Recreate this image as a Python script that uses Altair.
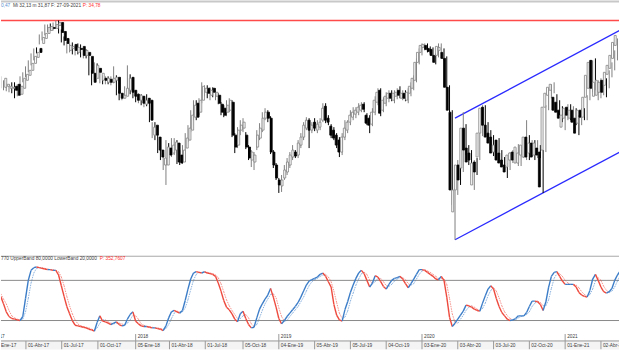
import altair as alt
import pandas as pd

# ---------------- data (weekly bars starting 2017-01-27) ----------------
open_ = [28.3,28.4,28.2,28.2,28.4,28.6,27.6,28.2,29.0,29.5,30.0,30.7,31.3,32.2,32.7,33.2,33.7,34.0,34.3,34.2,
         34.5,34.8,33.9,33.2,32.0,32.2,32.6,31.8,32.2,32.4,31.5,31.8,31.4,29.7,29.2,30.2,29.0,29.2,28.8,29.1,
         28.8,29.0,29.3,27.7,27.2,27.4,28.0,29.3,28.0,27.6,27.0,27.4,26.6,27.2,27.0,23.5,24.5,23.3,22.0,20.5,
         20.5,22.2,21.7,22.0,22.7,21.5,20.8,22.2,23.0,24.0,25.3,26.7,25.8,27.0,27.8,28.2,27.5,28.2,27.4,27.5,
         26.6,26.2,25.8,26.0,26.8,23.5,22.5,24.0,24.2,23.5,22.3,21.0,20.8,22.3,23.2,24.0,25.2,25.8,25.2,21.8,
         20.5,19.0,18.4,19.2,19.8,20.5,21.3,21.8,21.5,22.5,23.3,24.2,25.0,24.0,24.8,24.0,24.3,25.0,26.4,25.2,
         24.4,24.0,23.5,23.0,21.8,23.3,24.0,24.8,25.3,25.6,25.8,26.0,26.6,25.5,25.2,24.6,25.8,26.8,28.0,26.0,
         26.7,27.2,27.7,27.0,27.4,28.0,27.2,27.7,27.0,27.7,28.2,29.0,30.8,31.8,32.3,32.5,32.2,32.1,31.5,31.5,
         32.0,31.8,31.2,28.3,25.8,15.8,18.0,20.5,20.2,24.2,22.2,21.7,18.5,20.8,21.3,23.7,26.3,24.5,23.7,23.3,
         21.8,23.0,21.7,21.0,20.5,20.3,21.0,21.8,20.7,20.7,21.5,21.3,23.3,21.7,22.7,21.5,22.2,21.8,22.0,26.3,
         27.5,28.0,27.3,26.8,26.0,24.3,25.2,26.3,25.2,26.0,25.2,24.7,26.0,25.3,27.3,28.2,31.0,27.4,27.5,27.8,
         29.0,28.5,29.6,30.2,31.2,32.5]
high = [29.4,29.0,28.7,28.6,28.8,28.8,28.6,29.4,29.8,30.4,31.0,31.7,32.2,32.3,33.6,33.9,34.6,34.6,34.7,34.8,
        35.0,35.0,34.1,33.4,32.8,32.7,32.8,32.6,32.7,32.6,32.2,32.1,31.5,30.0,30.8,30.7,30.0,29.5,29.4,29.4,
        29.4,30.4,29.5,27.9,27.7,28.4,30.5,29.6,28.2,27.8,27.7,27.6,27.4,27.6,27.2,24.8,24.8,23.5,22.4,21.7,
        23.0,22.7,23.2,23.2,23.0,22.0,22.5,23.7,24.5,26.0,27.0,27.0,27.2,28.8,28.5,28.5,28.3,28.3,28.2,27.7,
        26.8,26.5,27.0,27.2,27.0,23.7,24.3,25.0,25.2,23.8,22.5,22.0,21.8,24.0,24.7,25.8,26.2,26.0,25.4,22.0,
        20.7,19.2,19.5,20.5,21.2,21.8,22.5,22.0,23.0,23.7,24.8,25.3,25.2,24.8,25.2,25.0,25.2,26.7,26.7,25.5,
        24.6,24.3,23.7,23.3,23.7,25.0,25.0,26.0,26.3,26.3,26.7,26.8,26.8,25.7,25.5,26.2,27.4,28.2,28.2,27.3,
        27.8,28.0,28.0,28.0,28.2,28.4,28.0,28.0,28.2,28.8,29.5,31.2,32.2,32.7,32.7,32.7,32.4,32.3,31.7,32.7,
        32.7,32.2,31.4,28.5,26.0,18.2,21.0,21.0,25.8,24.6,22.5,22.0,21.0,21.2,24.0,26.5,26.5,24.8,24.0,23.5,
        22.8,23.2,22.0,21.3,20.7,21.8,22.0,22.2,22.6,22.0,23.0,25.0,23.5,23.0,23.0,23.0,22.5,22.0,26.5,28.0,
        28.6,28.8,27.6,27.0,26.4,25.8,26.6,26.6,26.4,26.2,25.5,26.2,26.2,27.5,31.0,31.0,31.2,29.0,29.2,29.0,
        29.2,30.0,30.8,32.0,33.2,33.8]
low = [28.2,28.0,27.9,27.8,27.7,27.2,27.4,28.0,28.8,29.3,29.8,30.5,31.0,31.7,32.6,33.0,33.5,33.8,34.0,34.0,
       34.3,33.7,32.8,32.5,31.7,31.8,31.6,31.5,31.6,31.3,31.2,31.2,29.5,28.5,29.0,29.3,28.7,28.6,28.6,28.6,
       28.5,28.7,27.5,27.0,27.0,27.2,27.8,27.6,27.2,26.8,26.7,26.5,26.3,26.4,24.8,23.2,23.0,21.7,21.0,20.0,
       18.5,21.2,21.3,21.5,20.6,20.5,20.6,22.0,22.8,23.8,25.0,25.0,25.5,26.7,27.4,27.2,27.0,27.3,27.0,26.6,
       25.5,25.3,25.4,25.8,23.3,21.7,22.2,23.5,23.8,22.1,21.0,20.3,20.0,22.0,23.0,23.8,25.0,24.8,21.6,20.2,
       19.0,17.7,17.8,19.0,19.5,20.2,21.0,21.2,21.2,22.2,23.0,24.0,22.2,23.7,23.9,23.7,24.0,24.8,24.7,24.5,
       23.2,23.0,22.2,21.3,21.5,23.0,23.7,24.5,25.0,25.2,25.5,25.8,25.8,24.5,23.7,24.4,25.5,26.5,25.4,25.8,
       26.4,26.8,26.9,26.7,27.1,27.2,27.0,26.9,26.7,27.4,28.0,28.8,30.6,31.5,32.0,31.8,31.7,31.4,30.6,31.3,
       31.7,31.0,28.2,25.8,16.5,13.0,17.5,18.5,19.8,21.5,20.5,20.6,18.0,19.5,21.0,23.4,24.2,23.0,22.4,21.4,
       21.4,20.8,20.4,20.0,19.2,20.0,20.7,20.7,20.4,20.4,21.2,21.0,21.0,21.4,21.0,21.2,21.2,17.7,21.8,26.0,
       27.2,27.7,25.8,25.5,24.8,24.0,25.0,25.0,24.8,24.5,23.5,24.5,25.0,25.0,27.0,27.8,28.0,27.0,27.2,27.5,
       27.3,28.2,29.3,30.0,31.0,32.3]
close = [29.2,28.6,28.4,28.3,28.0,27.5,28.4,29.2,29.6,30.0,30.7,31.4,31.8,31.8,33.3,33.7,34.3,34.4,34.2,34.6,
         34.8,33.8,33.0,32.7,32.5,32.4,32.0,32.3,32.1,31.5,32.0,31.5,29.7,28.8,30.5,29.8,29.7,29.0,29.2,28.8,
         29.2,29.3,27.7,27.2,27.5,28.2,29.2,27.8,27.4,27.0,27.5,26.7,27.0,26.7,25.0,24.3,23.5,22.0,21.3,21.2,
         22.3,21.5,22.5,22.8,20.8,20.7,22.0,23.2,24.2,25.5,26.5,25.3,27.0,28.4,28.2,27.7,28.0,27.8,27.8,26.7,
         25.8,25.5,26.5,27.0,23.5,22.3,24.0,24.5,24.8,22.3,21.2,21.8,21.5,23.5,24.2,25.2,25.8,25.2,21.8,20.5,
         19.2,18.5,19.0,20.0,20.8,21.5,22.0,21.4,22.7,23.3,24.5,25.0,24.0,24.5,24.2,24.6,24.8,26.2,25.0,24.8,
         23.5,23.2,22.5,21.8,23.3,24.2,24.8,25.5,25.8,26.0,26.3,26.5,26.1,24.7,24.5,25.8,27.0,27.8,25.7,27.0,
         27.4,27.7,27.2,27.7,27.8,27.5,27.7,27.2,27.8,28.4,29.2,30.8,31.8,32.5,32.6,32.1,31.9,31.5,30.8,32.4,
         32.3,31.2,28.3,26.0,18.0,18.0,20.5,19.0,24.2,22.0,20.8,21.0,20.7,19.8,23.7,26.2,24.5,23.3,22.7,21.7,
         22.5,21.0,20.7,20.3,19.8,21.5,21.7,21.0,22.3,21.7,22.5,23.3,21.3,22.7,21.3,22.7,21.5,18.3,26.3,27.7,
         28.3,28.6,26.0,25.8,25.2,25.5,26.2,25.5,26.0,24.8,23.7,26.0,25.3,27.3,29.5,30.8,28.2,28.8,29.0,28.8,
         27.8,29.8,30.5,31.5,32.8,33.5]

# stochastic %K and signal, one value per weekly bar
stoch_k = [56,45,33,26,23,22,21,20,26,53,80,95,99,100,99,98,97,96,96,95,
           95,88,72,56,41,30,20,13,12,11,10,9,7,6,4,17,27,19,18,16,
           14,16,18,14,12,13,22,29,33,19,15,12,11,11,10,9,9,8,7,5,
           12,24,33,35,33,31,35,50,67,82,91,93,92,91,93,91,90,89,86,76,
           64,50,40,36,30,22,18,30,34,23,14,9,10,24,37,45,52,58,68,55,
           40,23,15,20,26,31,36,41,47,55,64,73,79,81,83,85,89,91,86,78,
           70,44,28,21,19,36,48,62,73,83,91,95,90,80,70,76,87,85,78,71,
           67,74,80,83,84,86,82,75,69,75,82,89,96,96,95,92,89,86,82,81,
           86,80,55,25,11,16,22,28,34,43,42,40,37,35,34,46,57,67,72,67,
           53,41,32,27,22,20,21,23,27,27,27,32,41,49,49,48,44,35,48,70,
           86,92,93,86,79,74,74,74,74,70,62,58,56,55,65,82,89,80,70,63,
           61,63,68,80,88,94]
stoch_d = [60,52,45,35,27,24,22,21,22,33,53,76,91,98,99,99,98,97,96,96,
           95,93,85,72,56,42,30,21,15,12,11,10,9,7,6,9,16,21,21,18,
           16,15,16,16,15,13,16,21,28,27,22,15,13,11,11,10,9,9,8,7,
           8,14,23,31,34,33,33,39,51,66,80,89,92,92,92,92,91,90,88,84,
           75,63,51,42,35,29,23,23,27,29,24,15,11,14,24,35,45,52,59,60,
           54,39,26,19,20,26,31,36,41,48,55,64,72,78,81,83,86,88,89,85,
           78,64,47,31,23,25,34,49,61,73,82,90,92,89,80,75,78,83,83,78,
           72,71,74,79,82,84,84,81,75,73,75,82,89,94,96,94,92,89,86,83,
           83,82,74,53,30,17,16,22,28,35,40,42,40,37,35,38,46,57,65,69,
           64,54,42,33,27,23,21,21,24,26,27,29,33,41,46,49,47,42,42,51,
           68,83,90,90,86,80,76,74,74,73,69,63,59,56,59,67,79,84,80,71,
           65,62,64,70,79,87]

resistance_price = [35.0]
channel_dates = ["2020-03-27", "2021-07-09"]
channel_upper = [25.2, 35.06]
channel_lower = [13.0, 22.86]
bands = [80, 20]

tick_dates = ["2017-01-05", "2017-04-01", "2017-07-01", "2017-10-01", "2018-01-05", "2018-04-01",
              "2018-07-01", "2018-10-05", "2019-01-04", "2019-04-05", "2019-07-05", "2019-10-04",
              "2020-01-03", "2020-04-03", "2020-07-03", "2020-10-02", "2021-01-01", "2021-04-02"]
tick_labels = ["05-Ene-17", "01-Abr-17", "01-Jul-17", "01-Oct-17", "05-Ene-18", "01-Abr-18",
               "01-Jul-18", "05-Oct-18", "04-Ene-19", "05-Abr-19", "05-Jul-19", "04-Oct-19",
               "03-Ene-20", "03-Abr-20", "03-Jul-20", "02-Oct-20", "01-Ene-21", "02-Abr-21"]
year_dates = ["2017-01-05", "2018-01-05", "2019-01-04", "2020-01-03", "2021-01-01"]
year_labels = ["2017", "2018", "2019", "2020", "2021"]

# ---------------- frames ----------------
n = len(close)
dates = [(pd.Timestamp("2017-01-27") + pd.Timedelta(weeks=i)).strftime("%Y-%m-%d") for i in range(n)]
candles = pd.DataFrame({"date": dates, "open": open_, "high": high, "low": low, "close": close})
candles["dir"] = ["up" if c >= o else "down" for o, c in zip(open_, close)]

def segments(vals):
    rows = []
    for i in range(len(vals) - 1):
        rows.append({"d1": dates[i], "d2": dates[i + 1], "v1": vals[i], "v2": vals[i + 1],
                     "trend": "rise" if vals[i + 1] >= vals[i] else "fall"})
    return pd.DataFrame(rows)

seg_k = segments(stoch_k)
seg_d = segments(stoch_d)

W = 620
FONT = "Liberation Sans"
xscale = alt.Scale(type="utc", domain=[alt.DateTime(year=2017, month=1, date=27, hours=15, utc=True),
                                       alt.DateTime(year=2021, month=5, date=17, hours=22, utc=True)])
X = lambda f: alt.X(f, type="temporal", scale=xscale, axis=None)

# ---------------- price panel ----------------
pscale = alt.Scale(domain=[11.4, 37.0], nice=False, zero=False)
dir_stroke = alt.Scale(domain=["up", "down"], range=["#808080", "#000000"])
dir_fill = alt.Scale(domain=["up", "down"], range=["#ffffff", "#000000"])

wicks = alt.Chart(candles).mark_rule(clip=True, strokeWidth=1).encode(
    x=X("date"), y=alt.Y("low:Q", scale=pscale, axis=None), y2="high:Q",
    stroke=alt.Stroke("dir:N", scale=dir_stroke, legend=None))
bodies = alt.Chart(candles).mark_bar(clip=True, size=2, strokeWidth=0.8).encode(
    x=X("date"), y=alt.Y("open:Q", scale=pscale, axis=None), y2="close:Q",
    fill=alt.Fill("dir:N", scale=dir_fill, legend=None),
    stroke=alt.Stroke("dir:N", scale=dir_stroke, legend=None))
res = alt.Chart(pd.DataFrame({"p": resistance_price})).mark_rule(color="#ff4a4a", strokeWidth=1.3).encode(
    y=alt.Y("p:Q", scale=pscale, axis=None))
chan = pd.DataFrame({"date": channel_dates * 2, "p": channel_upper + channel_lower,
                     "line": ["upper", "upper", "lower", "lower"]})
channel = alt.Chart(chan).mark_line(clip=True, color="#2a2aff", strokeWidth=1.3).encode(
    x=X("date"), y=alt.Y("p:Q", scale=pscale, axis=None), detail="line:N")

topbar = alt.Chart(pd.DataFrame({"a": [0]})).mark_rect(color="#c8c8c8").encode(
    x=alt.value(0), x2=alt.value(W), y=alt.value(0), y2=alt.value(2))
hdr = pd.DataFrame({"t": ["0,47", "Mi 32,13 m 31,87 F: 27-09-2021", "P: 34,78"],
                    "x": [0, 12, 82], "c": ["#5b8fd0", "#404040", "#ff3030"]})
hdr_text = alt.Chart(hdr).mark_text(align="left", baseline="middle", font=FONT, fontSize=4.8).encode(
    x=alt.X("x:Q", scale=alt.Scale(domain=[0, W], range=[0, W]), axis=None), y=alt.value(5),
    text="t:N", color=alt.Color("c:N", scale=None))

price = alt.layer(topbar, res, channel, wicks, bodies, hdr_text).resolve_scale(x="independent").properties(
    width=W, height=256)

# ---------------- stochastic panel ----------------
sscale = alt.Scale(domain=[-23.2, 116.8], nice=False, zero=False)
trend_col = alt.Scale(domain=["rise", "fall"], range=["#3c7dc8", "#ee4a3e"])

band_rules = alt.Chart(pd.DataFrame({"v": bands})).mark_rule(color="#8a8a8a", strokeWidth=1).encode(
    y=alt.Y("v:Q", scale=sscale, axis=None))
sep = alt.Chart(pd.DataFrame({"a": [0]})).mark_rule(color="#a8a8a8", strokeWidth=1).encode(
    x=alt.value(0), x2=alt.value(W), y=alt.value(0.5))
line_d = alt.Chart(seg_d).mark_rule(clip=True, strokeWidth=0.8, opacity=0.75, strokeDash=[1.5, 1]).encode(
    x=X("d1"), x2="d2", y=alt.Y("v1:Q", scale=sscale, axis=None), y2="v2:Q",
    color=alt.Color("trend:N", scale=trend_col, legend=None))
line_k = alt.Chart(seg_k).mark_rule(clip=True, strokeWidth=1.4).encode(
    x=X("d1"), x2="d2", y=alt.Y("v1:Q", scale=sscale, axis=None), y2="v2:Q",
    color=alt.Color("trend:N", scale=trend_col, legend=None))

shdr = pd.DataFrame({"t": ["770 UpperBand 80,0000 LowerBand 20,0000", "P: 352,7607"],
                     "x": [0, 99], "c": ["#404040", "#ff3030"]})
shdr_text = alt.Chart(shdr).mark_text(align="left", baseline="middle", font=FONT, fontSize=4.8).encode(
    x=alt.X("x:Q", scale=alt.Scale(domain=[0, W], range=[0, W]), axis=None), y=alt.value(3.5),
    text="t:N", color=alt.Color("c:N", scale=None))

axis_bg = alt.Chart(pd.DataFrame({"a": [0]})).mark_rect(color="#f4f4f4").encode(
    x=alt.value(0), x2=alt.value(W), y=alt.value(85), y2=alt.value(94))
axis_line = alt.Chart(pd.DataFrame({"a": [0]})).mark_rule(color="#9a9a9a", strokeWidth=1).encode(
    x=alt.value(0), x2=alt.value(W), y=alt.value(85.5))
ticks = pd.DataFrame({"d": tick_dates, "t": tick_labels})
tick_rules = alt.Chart(ticks).mark_rule(clip=True, color="#9a9a9a", strokeWidth=1).encode(
    x=X("d"), y=alt.value(85.5), y2=alt.value(94))
tick_text = alt.Chart(ticks).mark_text(clip=True, align="left", baseline="middle", dx=2, font=FONT,
                                       fontSize=4.8, color="#404040").encode(
    x=X("d"), y=alt.value(90.5), text="t:N")
years = pd.DataFrame({"d": year_dates, "t": year_labels})
year_rules = alt.Chart(years).mark_rule(clip=True, color="#9a9a9a", strokeWidth=1).encode(
    x=X("d"), y=alt.value(78.5), y2=alt.value(85.5))
year_text = alt.Chart(years).mark_text(clip=True, align="left", baseline="middle", dx=2, font=FONT,
                                       fontSize=4.8, color="#404040").encode(
    x=X("d"), y=alt.value(81.5), text="t:N")

stoch = alt.layer(axis_bg, sep, band_rules, line_d, line_k, axis_line, tick_rules, tick_text,
                  year_rules, year_text, shdr_text).resolve_scale(x="independent").properties(
    width=W, height=94)

chart = alt.vconcat(price, stoch, spacing=0).resolve_scale(
    color="independent", stroke="independent", fill="independent"
).properties(
    padding=0, background="#ffffff"
).configure_view(stroke=None)

chart.save("out.html", embed_options={"renderer": "svg", "actions": False})
